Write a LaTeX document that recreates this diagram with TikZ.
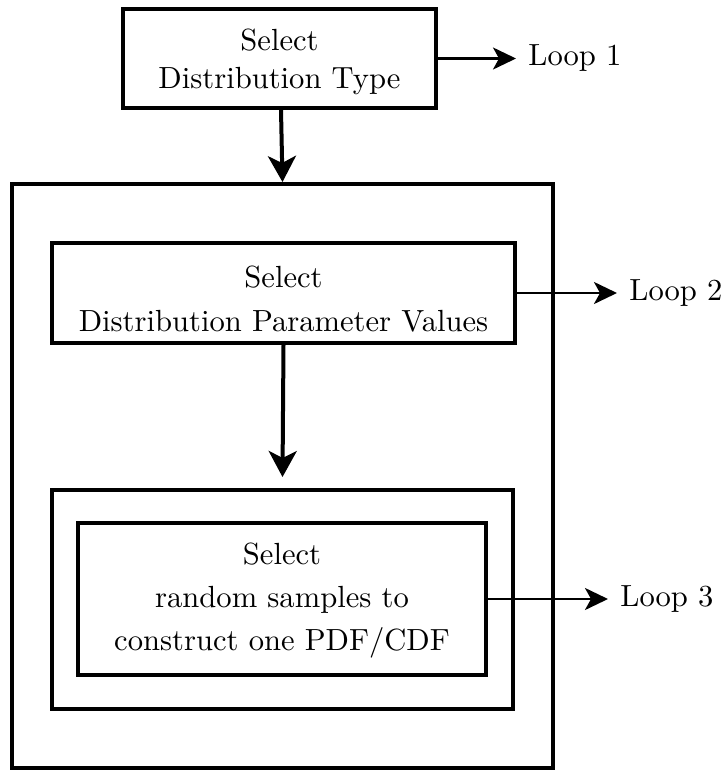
\documentclass[tikz,border=0pt]{standalone}
\usepackage{fontspec}
\setmainfont{lmroman10-regular.otf}
\usetikzlibrary{arrows.meta}
\begin{document}
\begin{tikzpicture}[x=0.5pt,y=-0.5pt,
  box/.style={draw, line width=2pt, rectangle, inner sep=0pt, align=center,
    font=\fontsize{15.3}{21.5}\selectfont},
  loopl/.style={anchor=west, inner xsep=6pt, inner ysep=0pt,
    font=\fontsize{15.3}{18}\selectfont},
  thinarrow/.style={line width=1.2pt, -{Stealth[length=11.5pt,width=11pt,inset=3pt]}},
  thickarrow/.style={line width=2pt, -{Stealth[length=13pt,width=14pt,inset=3.5pt]}}]
\useasboundingbox (0,0) rectangle (724,772);

% boxes
\node[box, minimum width=156.5pt, minimum height=49.5pt,
  font=\fontsize{15.3}{19}\selectfont] (b1) at (279.5,58.5)
  {\rule{0pt}{14pt}Select\\Distribution Type};
\node[box, minimum width=270.5pt, minimum height=292pt] (outer) at (282.5,476) {};
\node[box, minimum width=231.5pt, minimum height=50pt,
  font=\fontsize{15.3}{21.7}\selectfont] (b2) at (283.5,293)
  {\rule{0pt}{17pt}Select\\Distribution Parameter Values};
\node[box, minimum width=230.5pt, minimum height=109.5pt] (b3o) at (282.5,599.5) {};
\node[box, minimum width=204pt, minimum height=76pt] (b3) at (282,599)
  {\rule{0pt}{12.6pt}Select\\random samples to\\construct one PDF/CDF};

% loop labels
\node[loopl] (l1) at (516,58.5) {Loop 1};
\node[loopl] (l2) at (617,293) {Loop 2};
\node[loopl] (l3) at (608,599) {Loop 3};

% connectors
\draw[thickarrow] ([xshift=0.75pt]b1.south) -- (outer.north);
\draw[thickarrow] (b2.south) -- ([yshift=5.5pt]b3o.north);
\draw[thinarrow] (b1.east) -- (l1.west);
\draw[thinarrow] (b2.east) -- (l2.west);
\draw[thinarrow] (b3.east) -- (l3.west);
\end{tikzpicture}
\end{document}
